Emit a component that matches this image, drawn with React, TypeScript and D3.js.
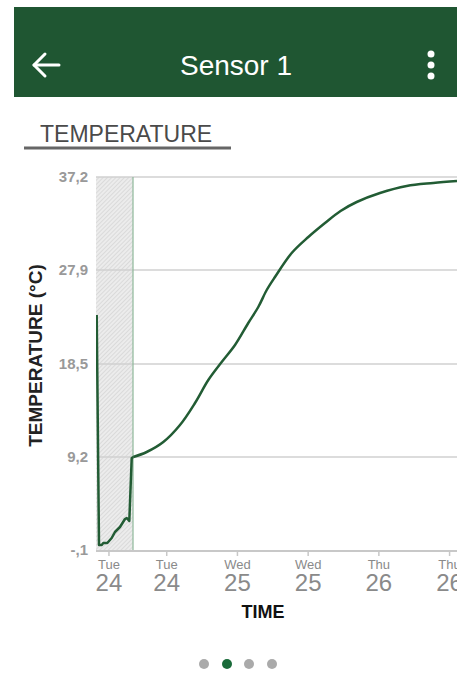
import React from "react";
import * as d3 from "d3";

// ---- data ----
const START = new Date(2023, 0, 24, 0, 0); // Tue 24
const END_HOURS = 61.26;
const hours = [0.12, 0.51, 0.97, 1.24, 1.92, 2.66, 3.22, 4.07, 4.92, 5.21, 5.65, 6.06, 6.33, 8.6, 11.42, 14.25, 16.8, 19.06, 21.33, 23.59, 25.84, 27.54, 28.97, 30.37, 33.21, 36.03, 38.86, 41.5, 44.24, 48.19, 52.72, 57.24, 61.26];
const temps = [23.4, 0.4, 0.4, 0.6, 0.6, 1.1, 1.7, 2.2, 3.0, 3.1, 2.8, 9.1, 9.2, 9.7, 10.7, 12.4, 14.6, 16.9, 18.7, 20.4, 22.6, 24.2, 25.9, 27.2, 29.6, 31.2, 32.6, 33.8, 34.7, 35.6, 36.3, 36.6, 36.8];
const yTicks = [-0.1, 9.2, 18.5, 27.9, 37.2];
const yTickLabels = ["-,1", "9,2", "18,5", "27,9", "37,2"];
const xTickHours = [2.2, 12, 24, 36, 48, 60];
const shadedHours = [0, 6.28];
const SPLIT = 12; // index where logging becomes smooth

const hToDate = (h: number) => new Date(START.getTime() + h * 3600 * 1000);

const GREEN = "#1f5632";
const LINE = "#225c34";

export default function App() {
  const left = 96, right = 457, top = 177, bottom = 550;
  const x = d3.scaleTime().domain([START, hToDate(END_HOURS)]).range([left, right]);
  const y = d3.scaleLinear().domain([-0.1, 37.2]).range([bottom, top]);
  const pts = hours.map((h, i) => ({ d: hToDate(h), v: temps[i] }));
  const lineLinear = d3
    .line<{ d: Date; v: number }>()
    .x((p) => x(p.d))
    .y((p) => y(p.v));
  const lineSmooth = d3
    .line<{ d: Date; v: number }>()
    .x((p) => x(p.d))
    .y((p) => y(p.v))
    .curve(d3.curveCatmullRom.alpha(0.5));
  const fmtDay = d3.timeFormat("%a");
  const fmtNum = d3.timeFormat("%d");
  const font = "'Liberation Sans', Arial, sans-serif";
  const sx0 = x(hToDate(shadedHours[0]));
  const sx1 = x(hToDate(shadedHours[1]));

  return (
    <svg
      width={457}
      height={685}
      style={{ position: "absolute", left: 0, top: 0, background: "#fff" }}
      fontFamily={font}
    >
      <defs>
        <pattern id="hatch" width={3} height={3} patternUnits="userSpaceOnUse" patternTransform="rotate(45)">
          <rect width={3} height={3} fill="#ececec" />
          <line x1={0} y1={0} x2={0} y2={3} stroke="#c8c8c8" strokeWidth={1} />
        </pattern>
        <clipPath id="plot">
          <rect x={left} y={top - 5} width={right - left} height={bottom - top + 5} />
        </clipPath>
      </defs>

      {/* header */}
      <rect x={14} y={7} width={443} height={90} fill={GREEN} />
      <g stroke="#fff" strokeWidth={3} fill="none" strokeLinecap="round" strokeLinejoin="round">
        <line x1={34} y1={65} x2={59} y2={65} />
        <polyline points="45,54 34,65 45,76" />
      </g>
      <text x={236} y={75} fill="#fff" fontSize={28} textAnchor="middle">
        Sensor 1
      </text>
      <g fill="#fff">
        <circle cx={431} cy={54} r={3.5} />
        <circle cx={431} cy={65} r={3.5} />
        <circle cx={431} cy={76} r={3.5} />
      </g>

      {/* section heading */}
      <text x={40} y={142} fill="#4a4a4a" fontSize={23}>
        TEMPERATURE
      </text>
      <line x1={24} y1={148} x2={231} y2={148} stroke="#666" strokeWidth={3} />

      {/* shaded region */}
      <rect x={sx0} y={top} width={sx1 - sx0} height={bottom - top} fill="url(#hatch)" />

      {/* gridlines */}
      {yTicks.slice(1).map((t) => (
        <line key={t} x1={left} x2={right} y1={y(t)} y2={y(t)} stroke="#d0d0d0" strokeWidth={1.5} />
      ))}
      <line x1={sx1} x2={sx1} y1={top} y2={bottom} stroke="#8fb89a" strokeWidth={1.2} />

      {/* x axis */}
      <line x1={left} x2={right} y1={bottom + 1} y2={bottom + 1} stroke="#c8c8c8" strokeWidth={2} />
      {xTickHours.map((h) => {
        const d = hToDate(h);
        const xx = x(d);
        return (
          <g key={h}>
            <line x1={xx} x2={xx} y1={bottom + 1} y2={bottom + 6} stroke="#c8c8c8" strokeWidth={1.5} />
            <text x={xx} y={569} fill="#8a8a8a" fontSize={13} textAnchor="middle">
              {fmtDay(d)}
            </text>
            <text x={xx} y={591} fill="#8a8a8a" fontSize={24} textAnchor="middle">
              {fmtNum(d)}
            </text>
          </g>
        );
      })}
      <text x={263} y={618} fill="#111" fontSize={18} fontWeight="bold" textAnchor="middle">
        TIME
      </text>

      {/* y axis labels */}
      {yTicks.map((t, i) => (
        <text key={t} x={88} y={y(t)} dy="0.35em" fill="#999" fontSize={15} fontWeight="bold" textAnchor="end">
          {yTickLabels[i]}
        </text>
      ))}
      <text
        transform={`translate(42,${(top + bottom) / 2 - 8}) rotate(-90)`}
        fill="#222"
        fontSize={19}
        fontWeight="bold"
        textAnchor="middle"
      >
        TEMPERATURE (°C)
      </text>

      {/* data line */}
      <g fill="none" stroke={LINE} strokeWidth={2.5} clipPath="url(#plot)" strokeLinejoin="round">
        <path d={lineLinear(pts.slice(0, SPLIT + 1)) || ""} />
        <path d={lineSmooth(pts.slice(SPLIT)) || ""} />
      </g>

      {/* page dots */}
      {[204, 227, 249, 272].map((cx, i) => (
        <circle key={cx} cx={cx} cy={664} r={5} fill={i === 1 ? "#1a6b3a" : "#aaaaaa"} />
      ))}
    </svg>
  );
}
